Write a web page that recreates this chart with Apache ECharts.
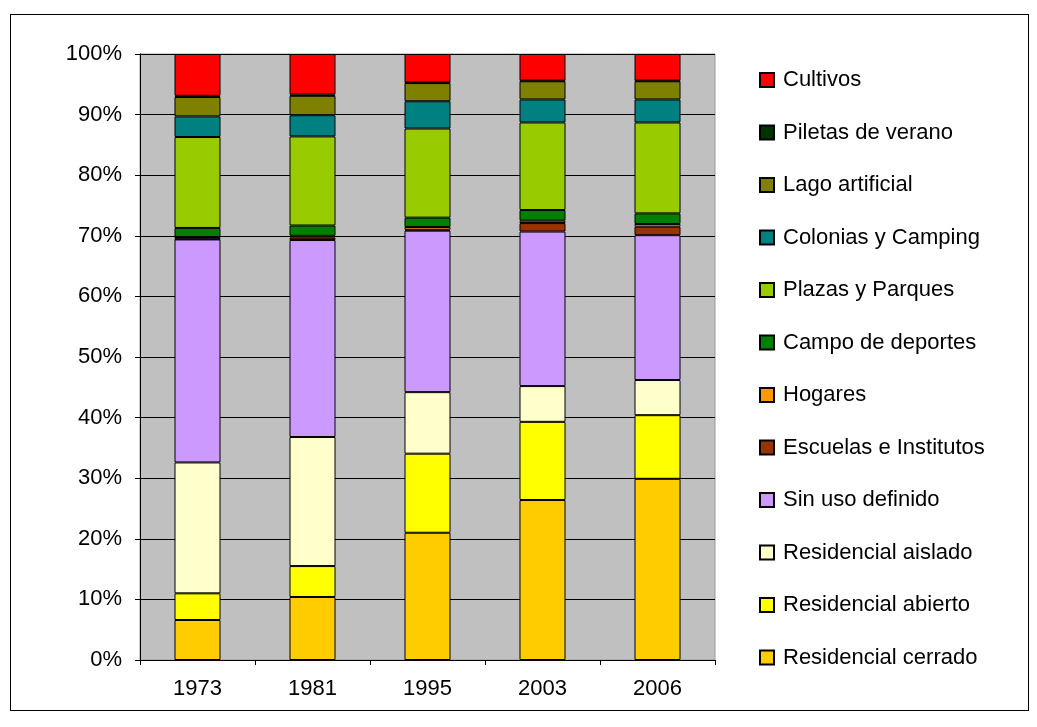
<!DOCTYPE html>
<html>
<head>
<meta charset="utf-8">
<script src="https://cdn.jsdelivr.net/npm/echarts@6/dist/echarts.min.js"></script>
<style>
html,body{margin:0;padding:0;background:#fff;}
#wrap{position:relative;width:1037px;height:727px;}
#frame{position:absolute;left:10px;top:14px;width:1019px;height:697px;border:1px solid #000;box-sizing:border-box;}
#chart{position:absolute;left:0;top:0;width:1037px;height:727px;}
</style>
</head>
<body>
<div id="wrap"><div id="frame"></div><div id="chart"></div></div>
<script>
var years = ['1973', '1981', '1995', '2003', '2006'];
var yTicks = [0, 10, 20, 30, 40, 50, 60, 70, 80, 90, 100];

var residencialCerrado = [6.6, 10.4, 21.0, 26.4, 29.9];
var residencialAbierto = [4.4, 5.1, 13.05, 12.9, 10.5];
var residencialAislado = [21.6, 21.3, 10.15, 5.9, 5.8];
var sinUsoDefinido = [36.8, 32.5, 26.65, 25.5, 23.9];
var escuelasInstitutos = [0.1, 0.4, 0.15, 1.4, 1.4];
var hogares = [0.3, 0.3, 0.45, 0.4, 0.45];
var campoDeportes = [1.5, 1.7, 1.55, 1.75, 1.75];
var plazasParques = [15.0, 14.7, 14.7, 14.45, 15.0];
var coloniasCamping = [3.4, 3.5, 4.5, 3.8, 3.8];
var lagoArtificial = [3.2, 3.2, 3.0, 3.0, 3.0];
var piletasVerano = [0.2, 0.2, 0.1, 0.1, 0.1];
var cultivos = [6.9, 6.7, 4.7, 4.4, 4.4];

var seriesDefs = [
  ['Residencial cerrado', residencialCerrado, '#FFCC00'],
  ['Residencial abierto', residencialAbierto, '#FFFF00'],
  ['Residencial aislado', residencialAislado, '#FFFFCC'],
  ['Sin uso definido', sinUsoDefinido, '#CC99FF'],
  ['Escuelas e Institutos', escuelasInstitutos, '#993300'],
  ['Hogares', hogares, '#FF9900'],
  ['Campo de deportes', campoDeportes, '#008000'],
  ['Plazas y Parques', plazasParques, '#99CC00'],
  ['Colonias y Camping', coloniasCamping, '#008080'],
  ['Lago artificial', lagoArtificial, '#808000'],
  ['Piletas de verano', piletasVerano, '#003300'],
  ['Cultivos', cultivos, '#FF0000']
];

var chart = echarts.init(document.getElementById('chart'), null, {renderer: 'canvas'});
var font = 'Liberation Sans, Arial, sans-serif';
var option = {
  animation: false,
  backgroundColor: 'transparent',
  grid: {
    left: 140, right: 322, top: 54, bottom: 67,
    show: true, backgroundColor: '#C0C0C0', borderColor: '#999999', borderWidth: 1
  },
  legend: {
    orient: 'vertical',
    left: 759,
    top: 69,
    padding: 0,
    itemWidth: 14,
    itemHeight: 14,
    itemGap: 30.5,
    icon: 'rect',
    data: seriesDefs.map(function (s) { return s[0]; }).reverse(),
    textStyle: { fontFamily: font, fontSize: 22, color: '#000', lineHeight: 18, padding: [0, 0, 0, 4] },
    selectedMode: false
  },
  xAxis: {
    type: 'category',
    data: years,
    boundaryGap: true,
    axisLine: { show: true, lineStyle: { color: '#000', width: 1 } },
    axisTick: { show: true, length: 5, lineStyle: { color: '#000' } },
    axisLabel: { fontFamily: font, fontSize: 22, color: '#000', margin: 18 },
    splitLine: { show: false }
  },
  yAxis: {
    type: 'value',
    min: yTicks[0],
    max: yTicks[yTicks.length - 1],
    interval: yTicks[1] - yTicks[0],
    axisLine: { show: true, lineStyle: { color: '#000', width: 1 } },
    axisTick: { show: true, inside: false, length: 5, lineStyle: { color: '#000' } },
    axisLabel: { fontFamily: font, fontSize: 22, color: '#000', margin: 18, formatter: '{value}%' },
    splitLine: { show: true, lineStyle: { color: '#000', width: 1 } }
  },
  series: seriesDefs.map(function (s) {
    return {
      name: s[0],
      type: 'bar',
      stack: 'total',
      barWidth: '40%',
      data: s[1],
      itemStyle: { color: s[2], borderColor: '#000', borderWidth: 1 },
      emphasis: { disabled: true }
    };
  })
};
chart.setOption(option);
</script>
</body>
</html>
